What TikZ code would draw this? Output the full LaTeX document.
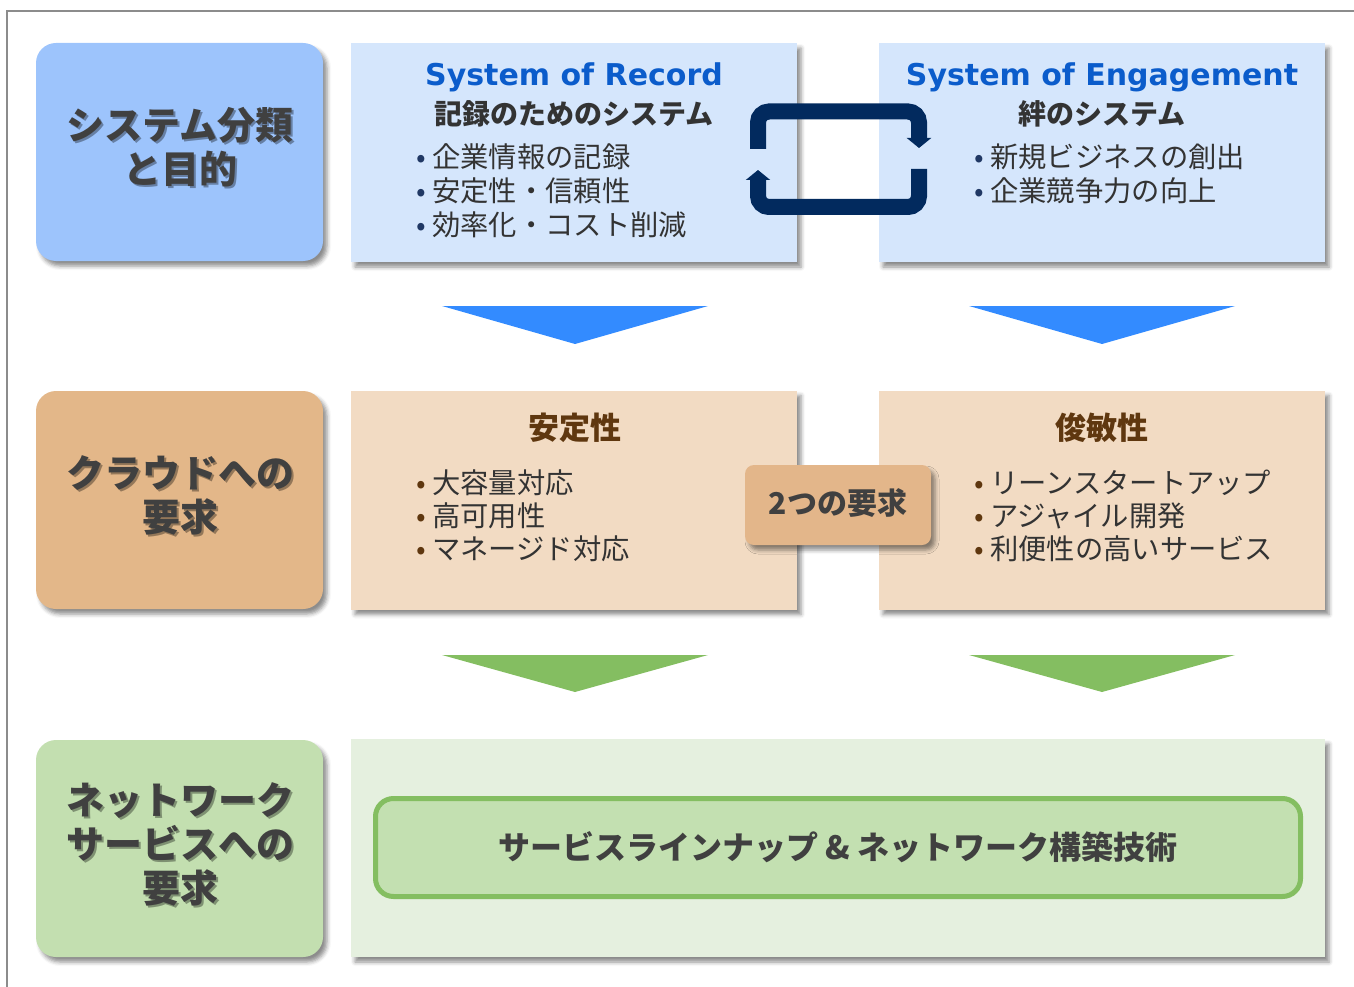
\documentclass[tikz,border=0pt]{standalone}
\usepackage{fontspec}
\setmainfont{Noto Sans CJK JP}
\newfontfamily\latinfont{DejaVu Sans}
\usetikzlibrary{shadows.blur,arrows.meta}
\definecolor{framegray}{HTML}{8C8C8C}
\definecolor{lblblue}{HTML}{9DC4FC}
\definecolor{boxblue}{HTML}{D5E6FC}
\definecolor{titleblue}{HTML}{0B5CCB}
\definecolor{navy}{HTML}{022A5E}
\definecolor{triblue}{HTML}{338BFF}
\definecolor{lbltan}{HTML}{E3B789}
\definecolor{boxtan}{HTML}{F2DBC3}
\definecolor{brown}{HTML}{5F370F}
\definecolor{reqtan}{HTML}{E3B68A}
\definecolor{lblgreen}{HTML}{C3DFB0}
\definecolor{boxgreen}{HTML}{E5F0DF}
\definecolor{innergreen}{HTML}{C3E0B1}
\definecolor{strokegreen}{HTML}{84BE61}
\definecolor{txtdark}{HTML}{404040}
\definecolor{txtbody}{HTML}{333333}
\definecolor{bulnavy}{HTML}{203864}
\newcommand{\bulmark}[1]{\makebox[22pt][c]{\textcolor{#1}{•}}}
\begin{document}
\begin{tikzpicture}[x=1pt,y=-1pt,
  shad/.style={blur shadow={shadow xshift=4pt,shadow yshift=-5pt,shadow blur radius=4pt,shadow opacity=45}},
  lblbox/.style={shad,rounded corners=20pt,minimum width=287pt,minimum height=218pt,inner sep=0pt},
  cbox/.style={shad,minimum width=446pt,minimum height=219pt,inner sep=0pt},
  lbltxt/.style={font=\bfseries\fontsize{38}{44}\selectfont,text=txtdark,align=center,inner sep=0pt},
  lblshd/.style={font=\bfseries\fontsize{38}{44}\selectfont,text=black,text opacity=0.35,align=center,inner sep=0pt},
  eng/.style={font=\latinfont\bfseries\fontsize{30}{36}\selectfont,text=titleblue,inner sep=0pt},
  sub/.style={font=\bfseries\fontsize{28}{32}\selectfont,text=txtbody,inner sep=0pt},
  bl/.style={font=\fontsize{28.3}{32}\selectfont,text=txtbody,inner sep=0pt,anchor=west},
  head/.style={font=\bfseries\fontsize{31}{34}\selectfont,text=brown,inner sep=0pt},
  cyc/.style={draw=navy,line width=16pt,rounded corners=11pt,-{Triangle[width=24pt,length=10pt]}}
]
\useasboundingbox (0,0) rectangle (1354,987);
% frame
\draw[framegray,line width=2pt] (7,987) -- (7,11) -- (1354,11);

% row 1
\node[lblbox,fill=lblblue] (l1) at (179.5,152) {};
\node[cbox,fill=boxblue] (sor) at (574,152.5) {};
\node[cbox,fill=boxblue] (soe) at (1102,152.5) {};
% row 2
\node[lblbox,fill=lbltan] (l2) at (179.5,500) {};
\node[cbox,fill=boxtan] (stab) at (574,500) {};
\node[cbox,fill=boxtan] (agil) at (1102,500) {};
% row 3
\node[lblbox,fill=lblgreen,minimum height=217pt] (l3) at (179.5,848.5) {};
\node[cbox,fill=boxgreen,minimum width=974pt,minimum height=218pt] (net) at (838,848) {};

% label texts with soft shadow
\node[lblshd] (l1s) at (182,149) {システム分類\\と目的};
\node[lbltxt] (l1t) at (180,147) {システム分類\\と目的};
\node[lblshd] (l2s) at (182,497) {クラウドへの\\要求};
\node[lbltxt] (l2t) at (180,495) {クラウドへの\\要求};
\node[lblshd] (l3s) at (182,846) {ネットワーク\\サービスへの\\要求};
\node[lbltxt] (l3t) at (180,844) {ネットワーク\\サービスへの\\要求};

% SoR
\node[eng] (sort) at (574,77) {System of Record};
\node[sub] (sors) at (574,114) {記録のためのシステム};
\node[bl] (sor1) at (410,157) {\bulmark{bulnavy}企業情報の記録};
\node[bl] (sor2) at (410,191) {\bulmark{bulnavy}安定性・信頼性};
\node[bl] (sor3) at (410,225) {\bulmark{bulnavy}効率化・コスト削減};
% SoE
\node[eng] (soet) at (1102,77) {System of Engagement};
\node[sub] (soes) at (1102,114) {絆のシステム};
\node[bl] (soe1) at (968,157) {\bulmark{bulnavy}新規ビジネスの創出};
\node[bl] (soe2) at (968,191) {\bulmark{bulnavy}企業競争力の向上};

% cycle icon
\draw[cyc] (758,149) -- (758,111.5) -- (919,111.5) -- (919,148);
\draw[cyc] (919,169) -- (919,207) -- (758,207) -- (758,170);

% blue arrows
\fill[triblue] (442,306) -- (708,306) -- (575,344) -- cycle;
\fill[triblue] (969,306) -- (1235,306) -- (1102,344) -- cycle;

% row 2 texts
\node[head] (stabh) at (575,428) {安定性};
\node[bl] (stab1) at (410,483) {\bulmark{brown}大容量対応};
\node[bl] (stab2) at (410,516) {\bulmark{brown}高可用性};
\node[bl] (stab3) at (410,549) {\bulmark{brown}マネージド対応};
\node[head] (agilh) at (1102,428) {俊敏性};
\node[bl] (agil1) at (968,483) {\bulmark{brown}リーンスタートアップ};
\node[bl] (agil2) at (968,516) {\bulmark{brown}アジャイル開発};
\node[bl] (agil3) at (968,549) {\bulmark{brown}利便性の高いサービス};

% two requirements
\node[shad,fill=reqtan,rounded corners=9pt,minimum width=186pt,minimum height=80pt,inner sep=0pt] (req) at (838,505) {};
\node[font=\bfseries\fontsize{30}{34}\selectfont,text=txtdark,inner sep=0pt] (reqt) at (838,503) {2つの要求};

% green arrows
\fill[strokegreen] (442,655) -- (708,655) -- (575,692) -- cycle;
\fill[strokegreen] (969,655) -- (1235,655) -- (1102,692) -- cycle;

% inner green box
\node[draw=strokegreen,line width=5pt,fill=innergreen,rounded corners=18pt,minimum width=925pt,minimum height=98pt,inner sep=0pt] (inner) at (838,847.5) {};
\node[font=\bfseries\fontsize{32}{36}\selectfont,text=txtdark,inner sep=0pt] (innert) at (838,847) {サービスラインナップ \& ネットワーク構築技術};
\end{tikzpicture}
\end{document}
